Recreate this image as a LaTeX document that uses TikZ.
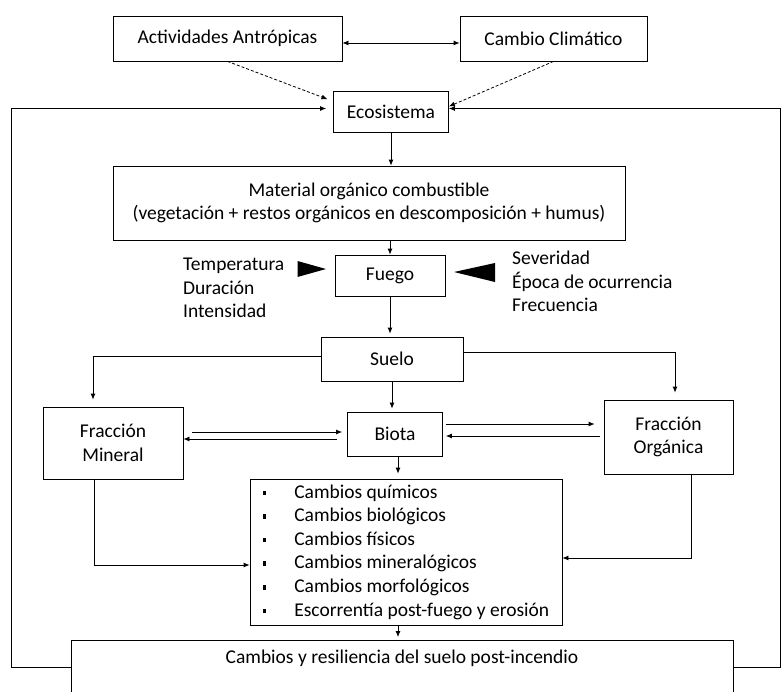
\documentclass[tikz,border=0pt]{standalone}
\usepackage{fontspec}
\setmainfont{Carlito}
\usetikzlibrary{arrows.meta}

\newcommand{\sqbullet}{\rule[3pt]{3.5pt}{4.5pt}\hspace{28pt}}

\begin{document}
\begin{tikzpicture}[x=1pt, y=-1pt, font=\fontsize{19.5}{23.6}\selectfont,
    box/.style={draw, rectangle, inner sep=0pt, align=center, line width=0.8pt},
    link/.style={line width=0.8pt, >={Latex[length=6pt,width=5pt]}},
    dlink/.style={link, dash pattern=on 3pt off 2pt}]
    \useasboundingbox (0,0) rectangle (782,691);
    \clip (0,0) rectangle (782,691);

    \node[box, minimum width=229, minimum height=45] (act) at (227.5,38.5) {Actividades Antrópicas};
    \node[box, minimum width=187, minimum height=45] (cc) at (553.5,38.5) {Cambio Climático};
    \node[box, minimum width=115, minimum height=41] (eco) at (391,111.5) {Ecosistema};
    \node[box, minimum width=512, minimum height=74] (mat) at (369,203) {Material orgánico combustible\\(vegetación + restos orgánicos en descomposición + humus)};
    \node[box, minimum width=110, minimum height=41] (fuego) at (390,275.5) {Fuego};
    \node[anchor=north west, inner sep=0pt, align=left] (factl) at (183,258) {Temperatura\\Duración\\Intensidad};
    \node[anchor=north west, inner sep=0pt, align=left] (factr) at (512,251) {Severidad\\Época de ocurrencia\\Frecuencia};
    \node[box, minimum width=142, minimum height=44] (suelo) at (392,359) {Suelo};
    \node[box, minimum width=140, minimum height=72] (mineral) at (113,443) {Fracción\\Mineral};
    \node[box, minimum width=95, minimum height=44] (biota) at (395,434) {Biota};
    \node[box, minimum width=129, minimum height=74] (org) at (668.5,437) {Fracción\\Orgánica};
    \node[box, align=left, minimum width=312, minimum height=146] (cambios) at (406,552) {\sqbullet Cambios químicos\\\sqbullet Cambios biológicos\\\sqbullet Cambios físicos\\\sqbullet Cambios mineralógicos\\\sqbullet Cambios morfológicos\\\sqbullet Escorrentía post-fuego y erosión};
    \node[box, anchor=north, minimum width=662, inner ysep=6pt, text height=17pt, text depth=24pt] (res) at (402,640) {Cambios y resiliencia del suelo post-incendio};

    \fill (297.5,261) -- (326,269) -- (297.5,277) -- cycle;
    \fill (495,263) -- (495,282) -- (454,272) -- cycle;

    \draw [link, <->] ([yshift=-4.5pt]act.east) -- ([yshift=-4.5pt]cc.west);
    \draw [dlink, ->, shorten >=6pt] (act.south) -- (eco.170);
    \draw [dlink, ->] (cc.south) -- (eco.5);
    \draw [link, ->, shorten >=7pt] (res.west) -- ++(-59,0) |- ([yshift=3pt]eco.west);
    \draw [link, ->] (res.east) -- ++(47,0) |- ([yshift=3pt]eco.east);

    \draw [link, ->] (eco.south) -- (eco.south |- mat.north);
    \draw [link, ->] (fuego.north |- mat.south) -- (fuego.north);
    \draw [link, ->, shorten >=3pt] (fuego.south) -- (fuego.south |- suelo.north);
    \draw [link, ->, shorten >=3pt] (suelo.south) -- (suelo.south |- biota.north);

    \draw [link, ->, shorten >=7pt] ([yshift=3pt]suelo.west) -| ([xshift=-20pt]mineral.north);
    \draw [link, ->, shorten >=7pt] ([yshift=7pt]suelo.east) -| ([xshift=6.5pt]org.north);

    \draw [link, ->, shorten <=9pt, shorten >=5pt] ([yshift=11pt]mineral.east) -- ([yshift=11pt]mineral.east -| biota.west);
    \draw [link, ->, shorten <=10pt] ([yshift=4pt]mineral.east -| biota.west) -- ([yshift=4pt]mineral.east);
    \draw [link, ->, shorten <=3pt, shorten >=9pt] ([yshift=10pt]biota.east) -- ([yshift=10pt]biota.east -| org.west);
    \draw [link, ->, shorten <=4pt, shorten >=3pt] ([yshift=-2pt]biota.east -| org.west) -- ([yshift=-2pt]biota.east);

    \draw [link, ->, shorten >=5pt] ([xshift=3pt]biota.south) -- ([xshift=3pt]biota.south |- cambios.north);
    \draw [link, ->] ([xshift=-19pt]mineral.south) |- ([yshift=-13pt]cambios.west);
    \draw [link, ->] ([xshift=22.5pt]org.south) |- ([yshift=-6pt]cambios.east);
    \draw [link, ->, shorten >=3pt] ([xshift=-8pt]cambios.south) -- ([xshift=-8pt]cambios.south |- res.north);
\end{tikzpicture}
\end{document}
